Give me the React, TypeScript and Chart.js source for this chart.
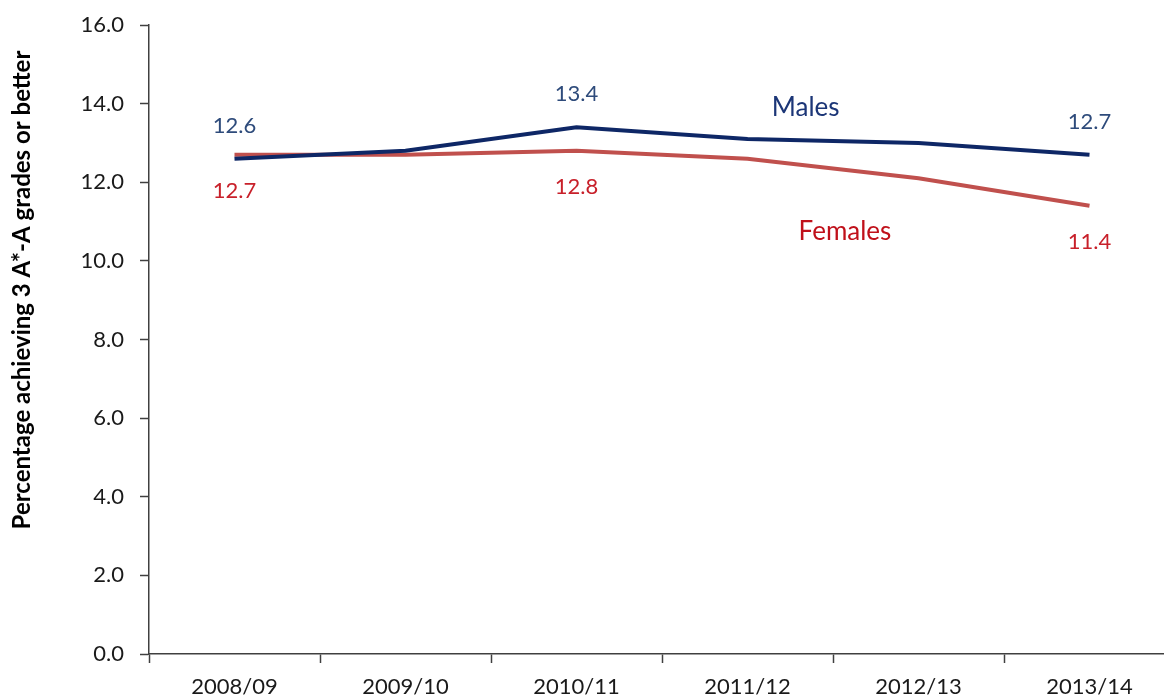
import React, { useEffect, useRef } from "react";
import { Chart, registerables } from "chart.js";

Chart.register(...registerables);

const categories = ["2008/09", "2009/10", "2010/11", "2011/12", "2012/13", "2013/14"];
const males = [12.6, 12.8, 13.4, 13.1, 13.0, 12.7];
const females = [12.7, 12.7, 12.8, 12.6, 12.1, 11.4];
const labelledIdx = [0, 2, 5];
const yTitle = "Percentage achieving 3 A*-A grades or better";
const seriesNames = ["Males", "Females"];
// series-name label anchors in data units (category index, value)
const nameAnchors = [
  { x: 3.34, y: 13.9 },
  { x: 3.57, y: 10.75 },
];

const FONT = "Lato, 'Open Sans', sans-serif";
const MALE_LINE = "#0E2766";
const FEMALE_LINE = "#C0504D";
const MALE_LABEL = "#2E4B7B";
const FEMALE_LABEL = "#C8202A";
const MALE_NAME = "#1C3677";
const FEMALE_NAME = "#C0101A";
const AXIS = "#404040";
const TICK_TEXT = "#1A1A1A";

const labelPlugin = {
  id: "labels",
  afterDatasetsDraw(chart: any) {
    const ctx = chart.ctx;
    const xs = chart.scales.x;
    const ys = chart.scales.y;
    ctx.save();
    ctx.textAlign = "center";
    ctx.textBaseline = "middle";
    ctx.font = `22px ${FONT}`;
    chart.data.datasets.forEach((ds: any, di: number) => {
      const meta = chart.getDatasetMeta(di);
      labelledIdx.forEach((i) => {
        const pt = meta.data[i];
        ctx.fillStyle = di === 0 ? MALE_LABEL : FEMALE_LABEL;
        const dy = di === 0 ? -33 : 36;
        ctx.fillText(ds.data[i].toFixed(1), pt.x, pt.y + dy);
      });
    });
    ctx.font = `26px ${FONT}`;
    seriesNames.forEach((n, i) => {
      ctx.fillStyle = i === 0 ? MALE_NAME : FEMALE_NAME;
      const px = xs.left + (nameAnchors[i].x + 0.5) * (xs.width / categories.length);
      ctx.fillText(n, px, ys.getPixelForValue(nameAnchors[i].y));
    });
    // y-axis title
    ctx.translate(22, 290);
    ctx.rotate(-Math.PI / 2);
    ctx.font = `bold 24px ${FONT}`;
    ctx.fillStyle = "#000000";
    ctx.fillText(yTitle, 0, 0);
    ctx.restore();
  },
};

export default function App() {
  const ref = useRef<HTMLCanvasElement>(null);
  useEffect(() => {
    const chart = new Chart(ref.current!, {
      type: "line",
      data: {
        labels: categories,
        datasets: [
          {
            label: seriesNames[0],
            data: males,
            borderColor: MALE_LINE,
            borderWidth: 4,
            pointRadius: 0,
            tension: 0,
          },
          {
            label: seriesNames[1],
            data: females,
            borderColor: FEMALE_LINE,
            borderWidth: 4,
            pointRadius: 0,
            tension: 0,
          },
        ],
      },
      options: {
        responsive: false,
        animation: false,
        layout: { padding: { left: 0, right: 5, top: 25, bottom: 0 } },
        plugins: { legend: { display: false }, tooltip: { enabled: false } },
        scales: {
          x: {
            offset: true,
            grid: {
              offset: true,
              drawOnChartArea: false,
              tickLength: 9,
              tickColor: AXIS,
              tickWidth: 1.5,
            },
            border: { color: AXIS, width: 1.5 },
            ticks: { color: TICK_TEXT, font: { family: FONT, size: 22 }, padding: 11, maxRotation: 0 },
            afterFit: (s: any) => {
              s.height = 43;
              s.paddingLeft = 0;
              s.paddingRight = 0;
            },
          },
          y: {
            min: 0,
            max: 16,
            ticks: {
              stepSize: 2,
              color: TICK_TEXT,
              font: { family: FONT, size: 22 },
              padding: 16,
              callback: (v: any) => Number(v).toFixed(1),
            },
            grid: {
              drawOnChartArea: false,
              tickLength: 9,
              tickColor: AXIS,
              tickWidth: 1.5,
            },
            border: { color: AXIS, width: 1.5 },
            afterFit: (s: any) => {
              s.width = 149;
              s.paddingTop = 0;
              s.paddingBottom = 0;
            },
          },
        },
      },
      plugins: [labelPlugin],
    });
    return () => chart.destroy();
  }, []);
  return (
    <div style={{ position: "fixed", left: 0, top: 0, width: 1164, height: 697, overflow: "hidden", background: "#fff" }}>
      <canvas ref={ref} width={1180} height={697} style={{ width: 1180, height: 697, display: "block" }} />
    </div>
  );
}
